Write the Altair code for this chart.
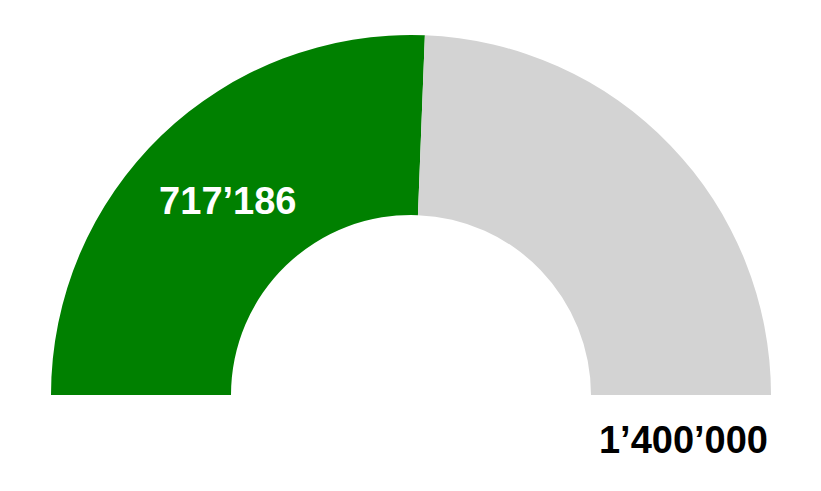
import math
import altair as alt
import pandas as pd

# Gauge values
current = 717186
total = 1400000

parts = ["current", "rest"]
values = [current, total - current]
colors = ["#008000", "#d3d3d3"]


def fmt(v):
    return f"{v:,}".replace(",", "\u2019")


df = pd.DataFrame({"part": parts, "value": values, "label": [fmt(current), ""]})
total_df = pd.DataFrame({"label": [fmt(total)]})

cx, cy = 403, 387

base = alt.Chart(df).encode(
    theta=alt.Theta("value:Q", stack=True,
                    scale=alt.Scale(range=[1.5 * math.pi, 2.5 * math.pi])),
    order=alt.Order("part:N"),
)

arcs = base.mark_arc(outerRadius=360, innerRadius=180, stroke=None).encode(
    color=alt.Color("part:N", scale=alt.Scale(domain=parts, range=colors), legend=None),
    x=alt.value(cx),
    y=alt.value(cy),
)

inner_label = base.mark_text(
    radius=270, dx=4, dy=3, font="Liberation Sans", fontWeight="bold", fontSize=38,
    color="white", baseline="middle", align="center"
).encode(
    text="label:N",
    x=alt.value(cx),
    y=alt.value(cy),
)

total_label = alt.Chart(total_df).mark_text(
    font="Liberation Sans", fontWeight="bold", fontSize=38,
    color="black", align="right", baseline="alphabetic"
).encode(
    text="label:N",
    x=alt.value(760),
    y=alt.value(445),
)

chart = (arcs + inner_label + total_label).properties(
    width=805, height=475, padding=0,
    autosize=alt.AutoSizeParams(type="none"),
).configure_view(stroke=None)

chart.save("out.html", embed_options={"renderer": "svg", "actions": False})
